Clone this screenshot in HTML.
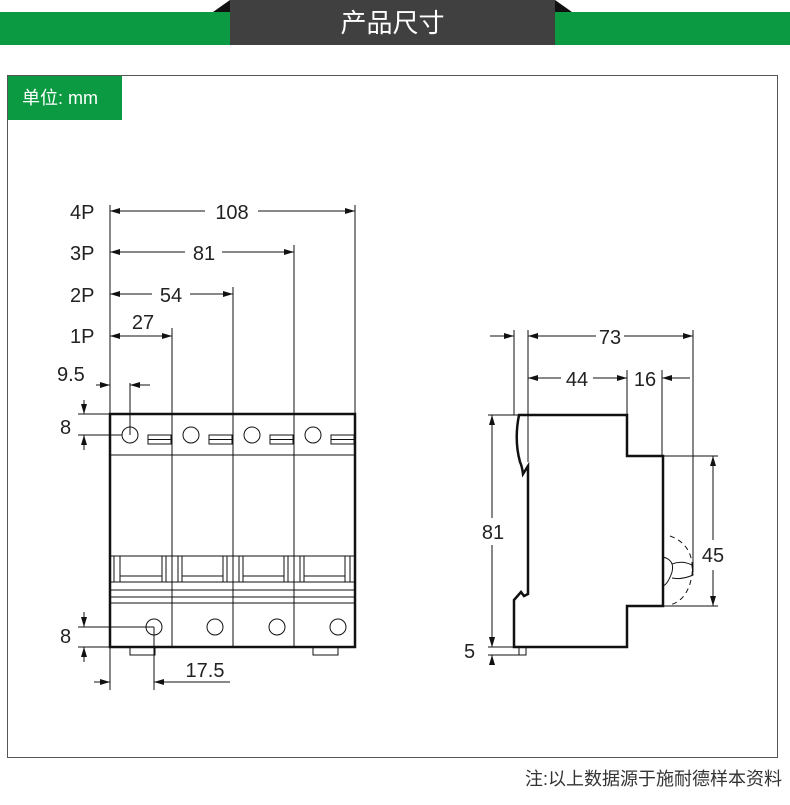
<!DOCTYPE html>
<html><head><meta charset="utf-8"><style>
body{margin:0;background:#fff;width:790px;height:805px;overflow:hidden;position:relative;font-family:"Liberation Sans","Noto Sans CJK SC",sans-serif}
.g{position:absolute;left:0;top:12px;width:790px;height:33px;background:#0b9a42}
.d{position:absolute;left:230px;top:0;width:325px;height:45px;background:#404040;color:#fff;font-size:26px;text-align:center;line-height:46px}
.t1{position:absolute;left:213px;top:0;width:0;height:0;border-left:17px solid transparent;border-bottom:12px solid #111}
.t2{position:absolute;left:555px;top:0;width:0;height:0;border-right:17px solid transparent;border-bottom:12px solid #111}
.f{position:absolute;left:7px;top:75px;width:769px;height:681px;border:1px solid #555}
.u{position:absolute;left:8px;top:76px;width:114px;height:44px;background:#0b9a42;color:#fff;font-size:18px;line-height:44px;padding-left:14px;box-sizing:border-box}
.n{position:absolute;right:8px;top:765px;font-size:18px;color:#333}
svg{position:absolute;left:0;top:0}
</style></head><body>
<div class="g"></div><div class="t1"></div><div class="t2"></div><div class="d">产品尺寸</div>
<div class="f"></div><div class="u">单位: mm</div>
<div class="n">注:以上数据源于施耐德样本资料</div>
<svg width="790" height="805" viewBox="0 0 790 805">
<defs><marker id="a" markerWidth="10" markerHeight="6" refX="10" refY="3" orient="auto-start-reverse" markerUnits="userSpaceOnUse"><path d="M0,0 L10,3 L0,6 Z" fill="#111"/></marker></defs>
<g fill="none" stroke="#111" stroke-width="1">
<!-- extension lines left -->
<line x1="110" y1="205" x2="110" y2="414"/><line x1="355" y1="205" x2="355" y2="414"/>
<line x1="294" y1="245" x2="294" y2="414"/><line x1="233" y1="287" x2="233" y2="414"/><line x1="172" y1="328" x2="172" y2="414"/>
<line x1="110" y1="211" x2="205" y2="211" marker-start="url(#a)"/><line x1="258" y1="211" x2="355" y2="211" marker-end="url(#a)"/>
<line x1="110" y1="252" x2="185" y2="252" marker-start="url(#a)"/><line x1="222" y1="252" x2="294" y2="252" marker-end="url(#a)"/>
<line x1="110" y1="294" x2="152" y2="294" marker-start="url(#a)"/><line x1="190" y1="294" x2="233" y2="294" marker-end="url(#a)"/>
<line x1="110" y1="336" x2="172" y2="336" marker-start="url(#a)" marker-end="url(#a)"/>
<!-- 9.5 -->
<line x1="96" y1="385" x2="110" y2="385" marker-end="url(#a)"/><line x1="130" y1="385" x2="150" y2="385" marker-start="url(#a)"/>
<line x1="130" y1="383" x2="130" y2="435"/>
<!-- 8 top -->
<line x1="78" y1="414" x2="110" y2="414"/><line x1="78" y1="435" x2="122" y2="435"/>
<line x1="84" y1="400" x2="84" y2="414" marker-end="url(#a)"/><line x1="84" y1="450" x2="84" y2="435" marker-end="url(#a)"/>
<!-- body -->
<rect x="110" y="414" width="245" height="233" stroke-width="2.5"/>
<line x1="172" y1="414" x2="172" y2="647"/><line x1="233" y1="414" x2="233" y2="647"/><line x1="294" y1="414" x2="294" y2="647"/>
<line x1="110" y1="455" x2="355" y2="455"/>
<line x1="110" y1="556" x2="355" y2="556"/><line x1="110" y1="582" x2="355" y2="582"/>
<line x1="110" y1="590" x2="355" y2="590"/><line x1="110" y1="597" x2="355" y2="597"/><line x1="110" y1="603" x2="355" y2="603"/>
<g>
<circle cx="130" cy="435" r="8"/><circle cx="191" cy="435" r="8"/><circle cx="252" cy="435" r="8"/><circle cx="313" cy="435" r="8"/>
<rect x="148" y="435" width="23" height="9"/><line x1="148" y1="439.5" x2="171" y2="439.5"/>
<rect x="209" y="435" width="23" height="9"/><line x1="209" y1="439.5" x2="232" y2="439.5"/>
<rect x="270" y="435" width="23" height="9"/><line x1="270" y1="439.5" x2="293" y2="439.5"/>
<rect x="331" y="435" width="23" height="9"/><line x1="331" y1="439.5" x2="354" y2="439.5"/>
<circle cx="154" cy="627" r="8"/><circle cx="215" cy="627" r="8"/><circle cx="277" cy="627" r="8"/><circle cx="338" cy="627" r="8"/>
</g>
<!-- band verticals -->
<g>
<line x1="114" y1="556" x2="114" y2="582"/><line x1="120" y1="556" x2="120" y2="582"/>
<line x1="162" y1="556" x2="162" y2="582"/><line x1="166" y1="556" x2="166" y2="582"/><line x1="178" y1="556" x2="178" y2="582"/><line x1="182" y1="556" x2="182" y2="582"/>
<line x1="223" y1="556" x2="223" y2="582"/><line x1="227" y1="556" x2="227" y2="582"/><line x1="239" y1="556" x2="239" y2="582"/><line x1="243" y1="556" x2="243" y2="582"/>
<line x1="284" y1="556" x2="284" y2="582"/><line x1="288" y1="556" x2="288" y2="582"/><line x1="300" y1="556" x2="300" y2="582"/><line x1="304" y1="556" x2="304" y2="582"/>
<line x1="345" y1="556" x2="345" y2="582"/><line x1="350" y1="556" x2="350" y2="582"/>
<line x1="120" y1="576" x2="162" y2="576"/><line x1="182" y1="576" x2="223" y2="576"/><line x1="243" y1="576" x2="284" y2="576"/><line x1="304" y1="576" x2="345" y2="576"/>
</g>
<rect x="130" y="647" width="25" height="8"/><rect x="313" y="647" width="25" height="8"/>
<!-- 8 bottom -->
<line x1="78" y1="627" x2="154" y2="627"/><line x1="78" y1="647" x2="110" y2="647"/>
<line x1="84" y1="612" x2="84" y2="627" marker-end="url(#a)"/><line x1="84" y1="662" x2="84" y2="647" marker-end="url(#a)"/>
<!-- 17.5 -->
<line x1="110" y1="647" x2="110" y2="690"/><line x1="154" y1="627" x2="154" y2="690"/>
<line x1="94" y1="682" x2="110" y2="682" marker-end="url(#a)"/><line x1="154" y1="682" x2="230" y2="682" marker-start="url(#a)"/>

<!-- right side -->
<path d="M519,415 L627,415 L627,456 L663,456 L663,606 L627,606 L627,647 L514,647 L514,600 L521,592 L524,596 L528,594 L528,466 L523,474 Q522,466 520,462 Q514,440 519,415 Z" stroke-width="2.5"/>
<rect x="519" y="647" width="7" height="8"/>
<line x1="514" y1="330" x2="514" y2="415"/><line x1="528" y1="330" x2="528" y2="462"/>
<line x1="693" y1="330" x2="693" y2="572"/><line x1="627" y1="370" x2="627" y2="415"/><line x1="662" y1="370" x2="662" y2="456"/>
<line x1="490" y1="336" x2="514" y2="336" marker-end="url(#a)"/>
<line x1="528" y1="336" x2="596" y2="336" marker-start="url(#a)"/><line x1="624" y1="336" x2="693" y2="336" marker-end="url(#a)"/>
<line x1="528" y1="378" x2="561" y2="378" marker-start="url(#a)"/><line x1="593" y1="378" x2="627" y2="378" marker-end="url(#a)"/>
<line x1="690" y1="378" x2="662" y2="378" marker-end="url(#a)"/>
<line x1="488" y1="415" x2="519" y2="415"/>
<line x1="492" y1="415" x2="492" y2="518" marker-start="url(#a)"/><line x1="492" y1="545" x2="492" y2="647" marker-end="url(#a)"/>
<line x1="663" y1="456" x2="718" y2="456"/><line x1="663" y1="606" x2="718" y2="606"/>
<line x1="713" y1="456" x2="713" y2="540" marker-start="url(#a)"/><line x1="713" y1="570" x2="713" y2="606" marker-end="url(#a)"/>
<line x1="488" y1="647" x2="514" y2="647"/><line x1="488" y1="655" x2="519" y2="655"/>
<line x1="492" y1="638" x2="492" y2="647" marker-end="url(#a)"/><line x1="492" y1="664" x2="492" y2="655" marker-end="url(#a)"/>
<path d="M663,557 Q675,560 672,572 Q668,584 663,586"/>
<path d="M672,564 Q682,560 692,565 L693,575 Q682,580 672,578"/>
<path d="M670,536 Q695,545 692,575 Q688,600 670,605" stroke-dasharray="5,4"/>
</g>
<g font-family="Liberation Sans, sans-serif" font-size="20" fill="#222">
<text x="70" y="219">4P</text><text x="70" y="260">3P</text><text x="70" y="302">2P</text><text x="70" y="343">1P</text>
<text x="232" y="219" text-anchor="middle">108</text><text x="204" y="260" text-anchor="middle">81</text>
<text x="171" y="302" text-anchor="middle">54</text><text x="143" y="329" text-anchor="middle">27</text>
<text x="57" y="381">9.5</text><text x="60" y="434">8</text><text x="60" y="643">8</text>
<text x="205" y="677" text-anchor="middle">17.5</text>
<text x="610" y="344" text-anchor="middle">73</text><text x="577" y="386" text-anchor="middle">44</text>
<text x="645" y="386" text-anchor="middle">16</text><text x="493" y="539" text-anchor="middle">81</text>
<text x="713" y="562" text-anchor="middle">45</text><text x="464" y="658">5</text>
</g>
</svg>
</body></html>
